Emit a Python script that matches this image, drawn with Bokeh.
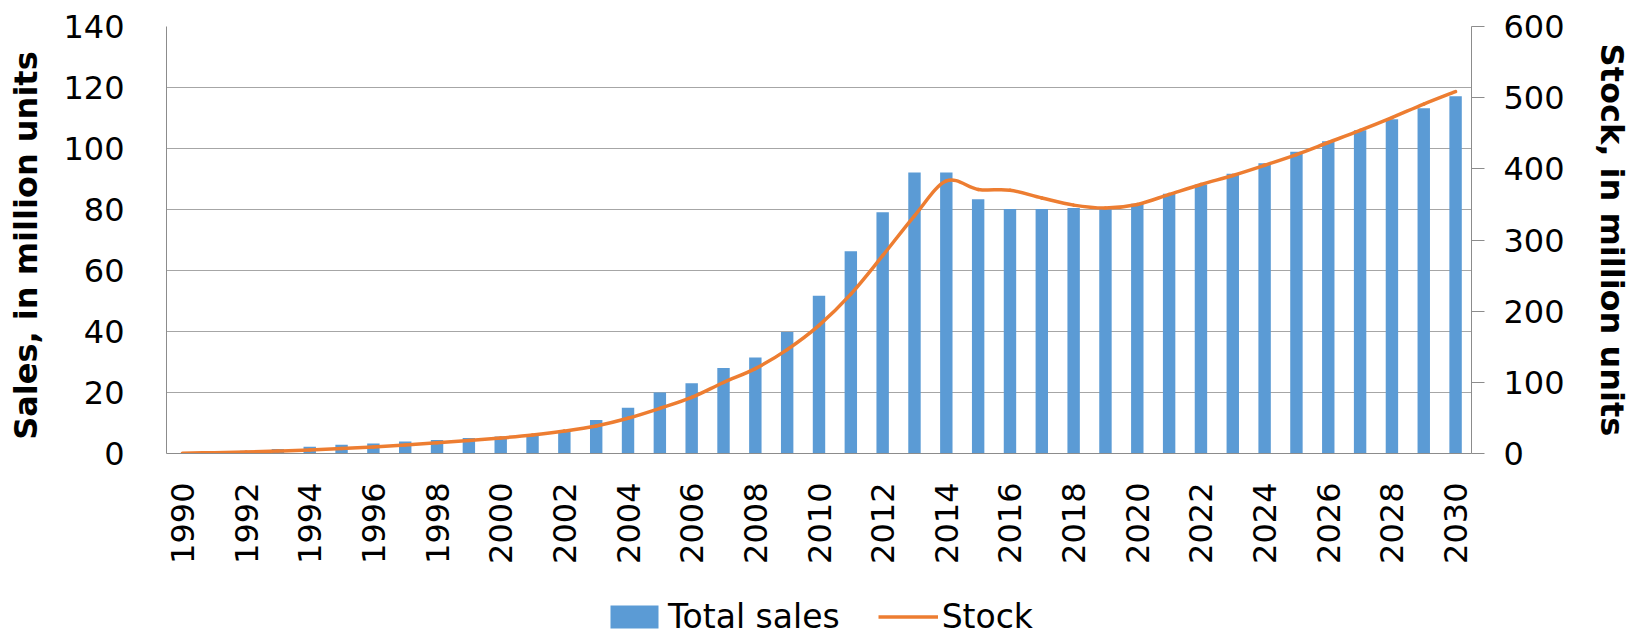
import math
from bokeh.plotting import figure
from bokeh.layouts import column
from bokeh.models import (Range1d, LinearAxis, FixedTicker, ColumnDataSource,
                          Legend, LegendItem)
from bokeh.embed import file_html
from bokeh.resources import INLINE

# ---- data ----
years = list(range(1990, 2031))
sales = [0.1, 0.4, 0.9, 1.5, 2.2, 2.9, 3.3, 3.9, 4.4, 5.1,
         5.6, 6.4, 7.5, 11.0, 15.0, 20.0, 23.0, 28.0, 31.5, 39.8,
         51.7, 66.3, 79.1, 92.1, 92.1, 83.4, 80.2, 80.2, 80.5, 80.6,
         81.9, 85.2, 88.2, 91.7, 95.2, 98.9, 102.4, 106.0, 109.6, 113.2,
         117.1]
stock = [0.5, 1.2, 2.2, 3.5, 5.0, 7.0, 9.3, 12.0, 15.0, 18.3,
         21.8, 26.0, 31.5, 38.7, 49.5, 63.4, 78.8, 99.8, 119.3, 146.0,
         180.0, 224.0, 278.0, 334.0, 383.0, 371.0, 370.0, 359.0, 349.0, 345.0,
         350.0, 364.0, 378.0, 390.7, 405.0, 420.0, 437.0, 454.0, 472.0, 491.0,
         508.6]
year_ticks = list(range(1990, 2031, 2))
sales_ticks = list(range(0, 141, 20))
stock_ticks = list(range(0, 601, 100))
series_names = ["Total sales", "Stock"]

FONT = "DejaVu Sans"
BLUE = "#5B9BD5"
ORANGE = "#ED7D31"
GRID = "#a6a6a6"
AXIS = "#8c8c8c"

W = 1642
LEG_H = 46
P_H = 636 - LEG_H

p = figure(width=W, height=P_H, output_backend="svg", toolbar_location=None,
           x_range=Range1d(1989.5, 2030.5), y_range=Range1d(0, 140),
           min_border_left=166, min_border_right=171, min_border_top=26,
           min_border_bottom=P_H - 453)
p.extra_y_ranges = {"stock": Range1d(0, 600)}
p.outline_line_color = None
p.background_fill_color = "white"
p.border_fill_color = "white"

# bars
bars = p.vbar(x=years, top=sales, width=0.39, fill_color=BLUE, line_color=None)

# smooth stock line (bezier segments through the data points)
n = len(years)
x0, y0, x1, y1, cx0, cy0, cx1, cy1 = [], [], [], [], [], [], [], []
for i in range(n - 1):
    im1 = max(i - 1, 0)
    ip2 = min(i + 2, n - 1)
    x0.append(years[i]); y0.append(stock[i])
    x1.append(years[i + 1]); y1.append(stock[i + 1])
    cx0.append(years[i] + (years[i + 1] - years[im1]) / 6.0)
    cy0.append(stock[i] + (stock[i + 1] - stock[im1]) / 6.0)
    cx1.append(years[i + 1] - (years[ip2] - years[i]) / 6.0)
    cy1.append(stock[i + 1] - (stock[ip2] - stock[i]) / 6.0)
bsrc = ColumnDataSource(dict(x0=x0, y0=y0, x1=x1, y1=y1, cx0=cx0, cy0=cy0, cx1=cx1, cy1=cy1))
p.bezier(x0="x0", y0="y0", x1="x1", y1="y1", cx0="cx0", cy0="cy0", cx1="cx1", cy1="cy1",
         source=bsrc, line_color=ORANGE, line_width=3.5, line_cap="round",
         y_range_name="stock")

# grid
p.xgrid.visible = False
p.ygrid.ticker = FixedTicker(ticks=sales_ticks)
p.ygrid.grid_line_color = GRID
p.ygrid.grid_line_width = 1

# left axis
ya = p.yaxis[0]
ya.ticker = FixedTicker(ticks=sales_ticks)
ya.axis_line_color = AXIS
ya.major_tick_line_color = None
ya.minor_tick_line_color = None
ya.major_tick_out = 0
ya.major_tick_in = 0
ya.major_label_standoff = 42
ya.major_label_text_font = FONT
ya.major_label_text_font_size = "32px"
ya.major_label_text_color = "black"
ya.axis_label = "Sales, in  million units"
ya.axis_label_text_font = FONT
ya.axis_label_text_font_style = "bold"
ya.axis_label_text_font_size = "32px"
ya.axis_label_text_color = "black"
ya.axis_label_standoff = 15

# right axis
ra = LinearAxis(y_range_name="stock", ticker=FixedTicker(ticks=stock_ticks))
ra.axis_line_color = AXIS
ra.major_tick_line_color = AXIS
ra.minor_tick_line_color = None
ra.major_tick_out = 13
ra.major_tick_in = 0
ra.major_label_standoff = 19
ra.major_label_text_font = FONT
ra.major_label_text_font_size = "32px"
ra.major_label_text_color = "black"
ra.axis_label = "Stock, in million units"
ra.axis_label_text_font = FONT
ra.axis_label_text_font_style = "bold"
ra.axis_label_text_font_size = "32px"
ra.axis_label_text_color = "black"
ra.axis_label_standoff = 25
p.add_layout(ra, "right")

# bottom axis
xa = p.xaxis[0]
xa.ticker = FixedTicker(ticks=year_ticks)
xa.axis_line_color = AXIS
xa.major_tick_line_color = None
xa.minor_tick_line_color = None
xa.major_tick_out = 0
xa.major_tick_in = 0
xa.major_label_standoff = 29
xa.major_label_orientation = math.pi / 2
xa.major_label_text_font = FONT
xa.major_label_text_font_size = "32px"
xa.major_label_text_color = "black"

# legend strip (separate figure below the chart; its frame is aligned with the chart's)
# its y view (600..700) lies above all data, so the proxy renderers draw nothing visible
lf = figure(width=W, height=LEG_H, output_backend="svg", toolbar_location=None,
            x_range=Range1d(1989.5, 2030.5), y_range=Range1d(600, 700),
            x_axis_location=None, y_axis_location=None, min_border=0)
lf.outline_line_color = None
lf.xgrid.visible = False
lf.ygrid.visible = False
lf.background_fill_color = "white"
lf.border_fill_color = "white"
proxy_bar = lf.vbar(x=years, top=sales, width=0.39, fill_color=BLUE, line_color=None)
proxy_line = lf.line(x=years, y=stock, line_color=ORANGE, line_width=3.5)

legend = Legend(items=[LegendItem(label=series_names[0], renderers=[proxy_bar]),
                       LegendItem(label=series_names[1], renderers=[proxy_line])],
                orientation="horizontal", location=(438, 0),
                glyph_width=60, glyph_height=29, label_standoff=4, spacing=38,
                padding=0, margin=0, border_line_color=None,
                background_fill_alpha=0,
                label_text_font=FONT, label_text_font_size="33px",
                label_text_color="black")
lf.add_layout(legend)

layout = column(p, lf, spacing=0)
open("out.html", "w").write(file_html(layout, INLINE))
